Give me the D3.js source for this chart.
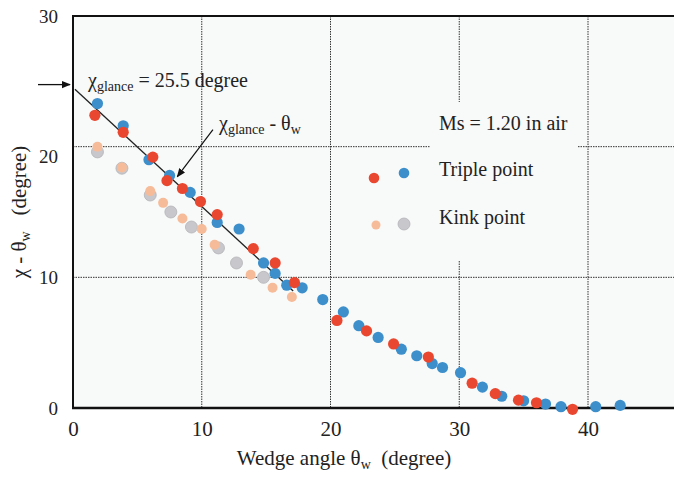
<!DOCTYPE html>
<html>
<head>
<meta charset="utf-8">
<script src="https://cdn.jsdelivr.net/npm/d3@7"></script>
<style>
  body { margin: 0; background: #fff; }
  text { font-family: "Liberation Serif", "Times New Roman", serif; fill: #222; }
</style>
</head>
<body>
<script>
// tick labels
const xTicks = [0, 10, 20, 30, 40];
const yTicks = [0, 10, 20, 30];

// triple point, red series [wedge angle, chi - theta]
const tripleRed = [
  [1.7, 22.4], [3.9, 21.1], [6.2, 19.2], [7.3, 17.4], [8.5, 16.8], [9.9, 15.8],
  [11.2, 14.8], [14.0, 12.2], [15.7, 11.1], [17.2, 9.6], [20.5, 6.7], [22.8, 5.9],
  [24.9, 4.9], [27.6, 3.9], [31.0, 1.9], [32.8, 1.1], [34.6, 0.6], [36.0, 0.4],
  [38.8, -0.1]
];

// triple point, blue series
const tripleBlue = [
  [1.9, 23.3], [3.9, 21.6], [5.9, 19.0], [7.5, 17.8], [9.1, 16.5], [11.2, 14.2],
  [12.9, 13.7], [14.8, 11.1], [15.7, 10.3], [16.6, 9.4], [17.8, 9.2], [19.4, 8.3],
  [21.0, 7.35], [22.2, 6.3], [23.7, 5.4], [25.5, 4.5], [26.7, 4.0], [27.9, 3.4],
  [28.7, 3.1], [30.1, 2.7], [31.8, 1.6], [33.3, 0.9], [35.0, 0.55], [36.7, 0.3],
  [37.9, 0.1], [40.6, 0.1], [42.5, 0.2]
];

// kink point, peach series
const kinkPeach = [
  [1.9, 20.0], [3.8, 18.4], [6.0, 16.6], [7.0, 15.7], [8.5, 14.5], [10.0, 13.7],
  [11.0, 12.5], [13.8, 10.2], [15.5, 9.2], [17.0, 8.5]
];

// kink point, grey series
const kinkGrey = [
  [1.9, 19.6], [3.8, 18.35], [6.0, 16.3], [7.6, 15.0], [9.2, 13.85], [11.3, 12.25],
  [12.7, 11.1], [14.8, 10.0]
];

// chi_glance - theta_w reference line
const glanceLine = [[0.15, 24.4], [17.1, 8.95]];

const width = 674;
const height = 478;

const svg = d3.select("body")
  .append("svg")
  .attr("width", width)
  .attr("height", height);

const x = d3.scaleLinear().domain([0, 40]).range([73, 588]);
const y = d3.scaleLinear().domain([0, 30]).range([408, 16]);

const plotLeft = x(0), plotRight = width, plotTop = y(30), plotBottom = y(0);

svg.append("defs").append("marker")
  .attr("id", "head")
  .attr("viewBox", "0 0 10 10")
  .attr("refX", 9).attr("refY", 5)
  .attr("markerWidth", 9).attr("markerHeight", 9)
  .attr("markerUnits", "userSpaceOnUse")
  .attr("orient", "auto")
  .append("path")
  .attr("d", "M0,1 L10,5 L0,9 Z")
  .attr("fill", "#111");

// plot background
svg.append("rect")
  .attr("x", plotLeft).attr("y", plotTop)
  .attr("width", plotRight - plotLeft).attr("height", plotBottom - plotTop)
  .attr("fill", "#f8f9f9");

// grid
svg.selectAll(".vgrid")
  .data(xTicks.filter(d => d > 0))
  .enter()
  .append("line")
  .attr("x1", d => x(d)).attr("x2", d => x(d))
  .attr("y1", plotTop).attr("y2", plotBottom)
  .attr("stroke", "#333")
  .attr("stroke-width", 1)
  .attr("stroke-dasharray", "1.5,1");

svg.selectAll(".hgrid")
  .data(yTicks.filter(d => d > 0 && d < 30))
  .enter()
  .append("line")
  .attr("x1", plotLeft).attr("x2", plotRight)
  .attr("y1", d => y(d)).attr("y2", d => y(d))
  .attr("stroke", "#333")
  .attr("stroke-width", 1)
  .attr("stroke-dasharray", "1.5,1");

// blank box behind the legend
svg.append("rect")
  .attr("x", 430).attr("y", 102)
  .attr("width", 148).attr("height", 158)
  .attr("fill", "#f8f9f9");

// axes frame
svg.append("path")
  .attr("d", `M${plotLeft},${plotBottom} L${plotLeft},${plotTop} L${plotRight},${plotTop}`)
  .attr("fill", "none")
  .attr("stroke", "#111")
  .attr("stroke-width", 2);
svg.append("line")
  .attr("x1", plotLeft - 1).attr("x2", plotRight)
  .attr("y1", plotBottom).attr("y2", plotBottom)
  .attr("stroke", "#111")
  .attr("stroke-width", 2.5);

// tick labels
const yAxis = svg.append("g")
  .attr("transform", `translate(${plotLeft},0)`)
  .call(d3.axisLeft(y).tickValues(yTicks).tickSize(0).tickPadding(15));
yAxis.select(".domain").remove();
yAxis.selectAll("text")
  .attr("font-family", "Liberation Serif")
  .attr("font-size", 19)
  .attr("fill", "#222");
yAxis.selectAll(".tick").filter(d => d === 20).select("text").attr("dy", "0.85em");

const xAxis = svg.append("g")
  .attr("transform", `translate(0,${plotBottom})`)
  .call(d3.axisBottom(x).tickValues(xTicks).tickSize(0).tickPadding(13));
xAxis.select(".domain").remove();
xAxis.selectAll("text")
  .attr("font-family", "Liberation Serif")
  .attr("font-size", 21)
  .attr("fill", "#222");

// axis titles
const xTitle = svg.append("text")
  .attr("x", 344).attr("y", 465)
  .attr("text-anchor", "middle")
  .attr("font-size", 21)
  .attr("xml:space", "preserve");
xTitle.append("tspan").text("Wedge angle θ");
xTitle.append("tspan").attr("font-size", 14).attr("dy", 4).text("w");
xTitle.append("tspan").attr("dy", -4).text("  (degree)");

const yTitle = svg.append("text")
  .attr("transform", "translate(26,212) rotate(-90)")
  .attr("text-anchor", "middle")
  .attr("font-size", 21)
  .attr("xml:space", "preserve");
yTitle.append("tspan").text("χ - θ");
yTitle.append("tspan").attr("font-size", 14).attr("dy", 4).text("w");
yTitle.append("tspan").attr("dy", -4).text("   (degree)");

// reference line
svg.append("line")
  .attr("x1", x(glanceLine[0][0])).attr("y1", y(glanceLine[0][1]))
  .attr("x2", x(glanceLine[1][0])).attr("y2", y(glanceLine[1][1]))
  .attr("stroke", "#222")
  .attr("stroke-width", 1.3);

// dots
function dots(data, color, r, stroke) {
  svg.append("g")
    .selectAll("circle")
    .data(data)
    .enter()
    .append("circle")
    .attr("cx", d => x(d[0]))
    .attr("cy", d => y(d[1]))
    .attr("r", r)
    .attr("fill", color)
    .attr("stroke", stroke || "none")
    .attr("stroke-width", 0.8);
}
dots(kinkGrey, "#c8c8cc", 6, "#b4b4b8");
dots(kinkPeach, "#f6bb98", 5);
dots(tripleBlue, "#3c8fcb", 5.6);
dots(tripleRed, "#e9472f", 5.6);

// annotation: chi_glance
svg.append("line")
  .attr("x1", 38).attr("x2", 70)
  .attr("y1", y(24.75)).attr("y2", y(24.75))
  .attr("stroke", "#111")
  .attr("stroke-width", 1.3)
  .attr("marker-end", "url(#head)");

const ann1 = svg.append("text")
  .attr("x", 88).attr("y", 87)
  .attr("font-size", 20);
ann1.append("tspan").text("χ");
ann1.append("tspan").attr("font-size", 14).attr("dy", 4).text("glance");
ann1.append("tspan").attr("dy", -4).text(" = 25.5 degree");

// annotation: chi_glance - theta_w
const ann2 = svg.append("text")
  .attr("x", 219).attr("y", 130)
  .attr("font-size", 20);
ann2.append("tspan").text("χ");
ann2.append("tspan").attr("font-size", 14).attr("dy", 4).text("glance");
ann2.append("tspan").attr("dy", -4).text(" - θ");
ann2.append("tspan").attr("font-size", 14).attr("dy", 4).text("w");

svg.append("line")
  .attr("x1", x(10.87)).attr("y1", y(21.3))
  .attr("x2", x(8.1)).attr("y2", y(17.7))
  .attr("stroke", "#111")
  .attr("stroke-width", 1.2)
  .attr("marker-end", "url(#head)");

// legend
svg.append("text")
  .attr("x", 439).attr("y", 130)
  .attr("font-size", 20)
  .text("Ms = 1.20 in air");

svg.append("text")
  .attr("x", 439).attr("y", 176)
  .attr("font-size", 20)
  .text("Triple point");
svg.append("circle").attr("cx", 374).attr("cy", 178).attr("r", 5.3).attr("fill", "#e9472f");
svg.append("circle").attr("cx", 404).attr("cy", 173).attr("r", 5.3).attr("fill", "#3c8fcb");

svg.append("text")
  .attr("x", 439).attr("y", 224)
  .attr("font-size", 20)
  .text("Kink point");
svg.append("circle").attr("cx", 376).attr("cy", 225).attr("r", 4.5).attr("fill", "#f6bb98");
svg.append("circle").attr("cx", 404).attr("cy", 224).attr("r", 6)
  .attr("fill", "#c8c8cc").attr("stroke", "#b4b4b8").attr("stroke-width", 0.8);
</script>
</body>
</html>
